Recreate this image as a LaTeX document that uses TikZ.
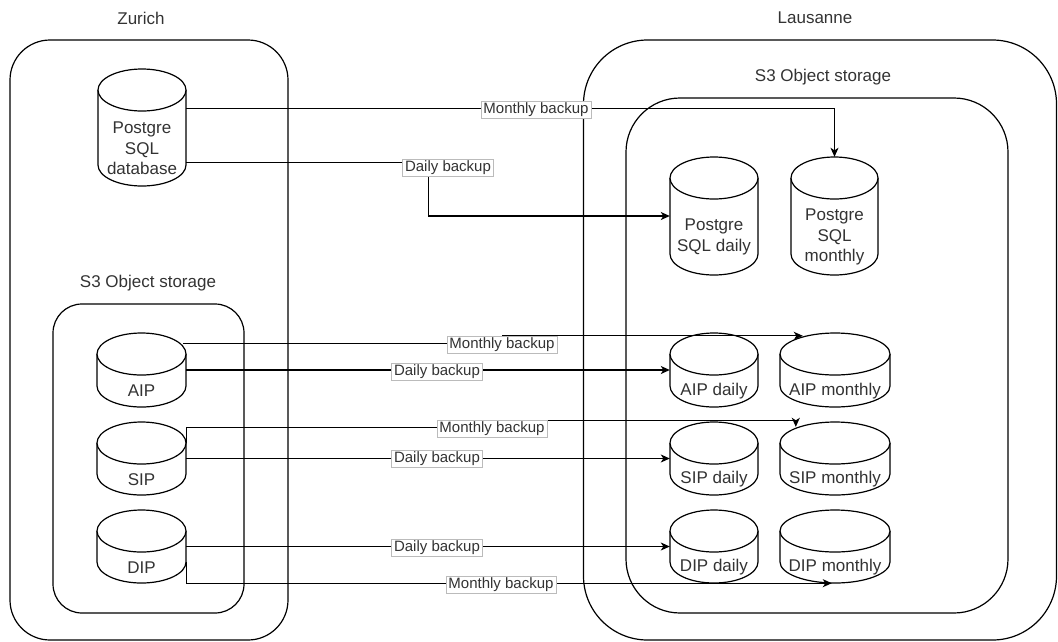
\documentclass[tikz,border=0pt]{standalone}
\usepackage{fontspec}
\setmainfont{Liberation Sans}
\usetikzlibrary{arrows.meta,calc}
\definecolor{txt}{HTML}{333333}
\definecolor{lblborder}{HTML}{BBBBBB}
\def\cry{21}
\newcommand\dbcyl[6]{%
  \pgfmathsetmacro\cw{#4-#2}%
  \pgfmathsetmacro\ch{#5-#3}%
  \pgfmathsetmacro\cxr{(#4-#2)/2}%
  \pgfmathsetmacro\cxc{(#4+#2)/2}%
  \pgfmathsetmacro\cyc{(#3+#5)/2}%
  \pgfmathsetmacro\cyy{#3+\cry}%
  \pgfmathsetmacro\cyb{#5-\cry}%
  \pgfmathsetmacro\cyt{(#3+2*\cry+#5)/2}%
  \node[inner sep=0pt, minimum width=\cw pt, minimum height=\ch pt] (#1) at (\cxc,\cyc) {};
  \draw[cylline] (#2,\cyy) -- (#2,\cyb) arc[start angle=180,end angle=360,x radius=\cxr pt,y radius=\cry pt] -- (#4,\cyy);
  \draw[cylline] (\cxc,\cyy) ellipse[x radius=\cxr pt,y radius=\cry pt];
  \node[cyltext] (#1-t) at (\cxc,\cyt) {#6};
}
\begin{document}
\begin{tikzpicture}[x=1pt,y=-1pt,
  cont/.style={draw=black, line width=1.2pt, inner sep=0pt},
  title/.style={text=txt, font=\fontsize{17}{20}\selectfont, inner sep=0pt},
  cylline/.style={draw=black, line width=1.2pt, fill=white},
  cyltext/.style={text=txt, font=\fontsize{17}{20.5}\selectfont, align=center, inner sep=0pt},
  edge/.style={draw=black, line width=1.2pt},
  arr/.style={-{Stealth[length=9pt,width=8pt,inset=2.5pt]}},
  lbl/.style={fill=white, draw=lblborder, line width=0.6pt, text=txt,
    font=\fontsize{15}{18}\selectfont, inner xsep=2.5pt, inner ysep=1pt,
    text height=11pt, text depth=3.5pt}]
\useasboundingbox (0,0) rectangle (1058,641);
% containers
\node[cont, rounded corners=40pt, minimum width=278pt, minimum height=600pt] (zurich) at (149,340) {};
\node[title] (zurichT) at (141,18) {Zurich};
\node[cont, rounded corners=29pt, minimum width=191pt, minimum height=309pt] (zs3) at (148.5,458.5) {};
\node[title] (zs3T) at (148,283) {S3 Object storage};
\node[cont, rounded corners=64pt, minimum width=473pt, minimum height=600pt] (laus) at (820,340) {};
\node[title] (lausT) at (815,18) {Lausanne};
\node[cont, rounded corners=54pt, minimum width=382pt, minimum height=515pt] (ls3) at (817,355.5) {};
\node[title] (ls3T) at (823,77) {S3 Object storage};
% cylinders
\dbcyl{db}{98}{69}{186}{186}{Postgre\\SQL\\database}
\dbcyl{aip}{97}{333}{186}{407}{AIP}
\dbcyl{sip}{97}{422}{186}{495}{SIP}
\dbcyl{dip}{97}{510}{186}{583}{DIP}
\dbcyl{pgd}{670}{157}{758}{275}{Postgre\\SQL daily}
\dbcyl{pgm}{791}{157}{878}{275}{Postgre\\SQL\\monthly}
\dbcyl{aipd}{670}{333}{758}{407}{AIP daily}
\dbcyl{aipm}{780}{333}{890}{407}{AIP monthly}
\dbcyl{sipd}{670}{422}{758}{495}{SIP daily}
\dbcyl{sipm}{780}{422}{890}{495}{SIP monthly}
\dbcyl{dipd}{670}{510}{758}{583}{DIP daily}
\dbcyl{dipm}{780}{510}{890}{583}{DIP monthly}
% edges
\draw[edge,arr] ($(db.north east)+(0,40)$) -| (pgm.north);
\draw[edge,arr] ($(db.north east)+(0,94)$) -- ($(db.north east)+(242,94)$) |- (pgd.west);
\draw[edge,arr] ($(aip.north east)+(-3,11)$) -- ($(aip.north east)+(316,11)$) -- ($(aip.north east)+(316,3)$) -- ($(aipm.north west)+(23,3)$);
\draw[edge,arr] (aip.east) -- (aipd.west);
\draw[edge,arr] ($(sip.north east)+(0,21)$) -- ($(sip.north east)+(0,6)$) -- ($(sip.north east)+(306,6)$) -- ($(sip.north east)+(306,-1)$) -| ($(sipm.north west)+(16,5)$);
\draw[edge,arr] (sip.east) -- (sipd.west);
\draw[edge,arr] (dip.east) -- (dipd.west);
\draw[edge,arr] ($(dip.north east)+(0,52)$) -- (dip.south east) -- ($(dipm.south west)+(52,0)$);
% edge labels
\node[lbl] (l1) at (536,110) {Monthly backup};
\node[lbl] (l2) at (448,168) {Daily backup};
\node[lbl] (l3) at (502,345) {Monthly backup};
\node[lbl] (l4) at (437,372) {Daily backup};
\node[lbl] (l5) at (492,429) {Monthly backup};
\node[lbl] (l6) at (437,459) {Daily backup};
\node[lbl] (l7) at (437,548) {Daily backup};
\node[lbl] (l8) at (501,585) {Monthly backup};
\end{tikzpicture}
\end{document}
